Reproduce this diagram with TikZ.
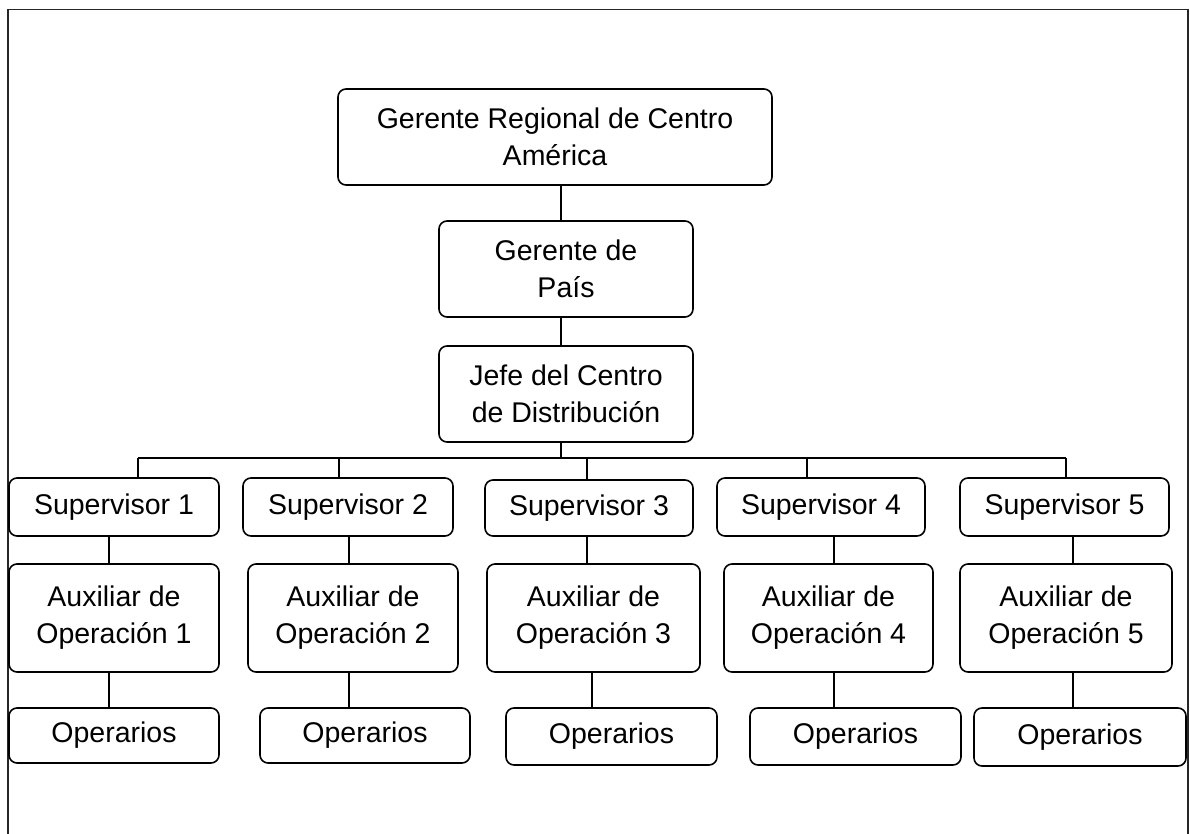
\documentclass[tikz,border=0pt]{standalone}
\usepackage{fontspec}
\setmainfont{Liberation Sans}
\begin{document}
\begin{tikzpicture}[x=1pt,y=-1pt,
  box/.style={draw=black, line width=1.6pt, rounded corners=8pt, fill=white,
    inner sep=0pt, align=center,
    font=\fontsize{28.5pt}{37pt}\selectfont},
  link/.style={draw=black, line width=1.6pt}]
% page and frame
\useasboundingbox (0,0) rectangle (1190,834);
\draw[line width=1.2pt, draw=black!85] (8,840) -- (8,9.5) -- (1188,9.5) -- (1188,840);

% upper chain
\node[box, minimum width=434pt, minimum height=96pt] (top)  at (555,137) {Gerente Regional de Centro\\América};
\node[box, minimum width=254pt, minimum height=96pt] (pais) at (566,269) {Gerente de\\País};
\node[box, minimum width=254pt, minimum height=96pt] (jefe) at (566,394) {Jefe del Centro\\de Distribución};

% supervisors
\node[box, minimum width=210pt, minimum height=58pt] (sup1) at (114,507)   {Supervisor 1};
\node[box, minimum width=210pt, minimum height=58pt] (sup2) at (348,507)   {Supervisor 2};
\node[box, minimum width=208pt, minimum height=56pt] (sup3) at (589,508)   {Supervisor 3};
\node[box, minimum width=208pt, minimum height=58pt] (sup4) at (821,507)   {Supervisor 4};
\node[box, minimum width=209pt, minimum height=58pt] (sup5) at (1064.5,507){Supervisor 5};

% assistants
\node[box, minimum width=210pt, minimum height=108pt] (aux1) at (114,618)   {Auxiliar de\\Operación 1};
\node[box, minimum width=210pt, minimum height=108pt] (aux2) at (353,618)   {Auxiliar de\\Operación 2};
\node[box, minimum width=213pt, minimum height=108pt] (aux3) at (593.5,618) {Auxiliar de\\Operación 3};
\node[box, minimum width=209pt, minimum height=108pt] (aux4) at (828.5,618) {Auxiliar de\\Operación 4};
\node[box, minimum width=212pt, minimum height=108pt] (aux5) at (1066,618)  {Auxiliar de\\Operación 5};

% workers
\node[box, minimum width=210pt, minimum height=55pt] (op1) at (114,735.5)   {Operarios};
\node[box, minimum width=210pt, minimum height=55pt] (op2) at (365,735.5)   {Operarios};
\node[box, minimum width=211pt, minimum height=57pt] (op3) at (611.5,736.5) {Operarios};
\node[box, minimum width=211pt, minimum height=57pt] (op4) at (855.5,736.5) {Operarios};
\node[box, minimum width=212pt, minimum height=58pt] (op5) at (1080,737)     {Operarios};

% connector positions
\coordinate (spine) at (561,0);
\coordinate (b1) at (138,458);
\coordinate (b2) at (339,458);
\coordinate (b3) at (587,458);
\coordinate (b4) at (807,458);
\coordinate (b5) at (1066,458);
\coordinate (v1) at (109,0);
\coordinate (v2) at (349,0);
\coordinate (v3) at (587,0);
\coordinate (w3) at (592,0);
\coordinate (v4) at (834,0);
\coordinate (v5) at (1073,0);

% vertical spine and bus
\draw[link] (top.south -| spine) -- (pais.north -| spine);
\draw[link] (pais.south -| spine) -- (jefe.north -| spine);
\draw[link] (jefe.south -| spine) -- (spine |- b1);
\draw[link] (b1) -- (b5);
\draw[link] (b1) -- (sup1.north -| b1);
\draw[link] (b2) -- (sup2.north -| b2);
\draw[link] (b3) -- (sup3.north -| b3);
\draw[link] (b4) -- (sup4.north -| b4);
\draw[link] (b5) -- (sup5.north -| b5);

% supervisor to assistant
\draw[link] (sup1.south -| v1) -- (aux1.north -| v1);
\draw[link] (sup2.south -| v2) -- (aux2.north -| v2);
\draw[link] (sup3.south -| v3) -- (aux3.north -| v3);
\draw[link] (sup4.south -| v4) -- (aux4.north -| v4);
\draw[link] (sup5.south -| v5) -- (aux5.north -| v5);

% assistant to workers
\draw[link] (aux1.south -| v1) -- (op1.north -| v1);
\draw[link] (aux2.south -| v2) -- (op2.north -| v2);
\draw[link] (aux3.south -| w3) -- (op3.north -| w3);
\draw[link] (aux4.south -| v4) -- (op4.north -| v4);
\draw[link] (aux5.south -| v5) -- (op5.north -| v5);
\end{tikzpicture}
\end{document}
